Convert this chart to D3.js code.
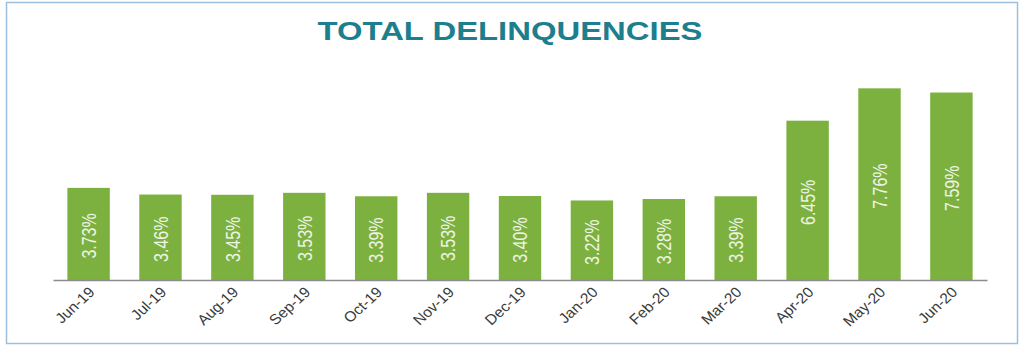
<!DOCTYPE html>
<html>
<head>
<meta charset="utf-8">
<script src="https://cdn.jsdelivr.net/npm/d3@7"></script>
<style>
  body { margin: 0; background: #fff; }
  svg { display: block; font-family: "Liberation Sans", Arial, sans-serif; }
</style>
</head>
<body>
<div id="chart"></div>
<script>
// dati del grafico
const months = ['Jun-19', 'Jul-19', 'Aug-19', 'Sep-19', 'Oct-19', 'Nov-19', 'Dec-19',
  'Jan-20', 'Feb-20', 'Mar-20', 'Apr-20', 'May-20', 'Jun-20'];
const rates = [3.73, 3.46, 3.45, 3.53, 3.39, 3.53, 3.40, 3.22, 3.28, 3.39, 6.45, 7.76, 7.59];
const valueLabels = ['3.73%', '3.46%', '3.45%', '3.53%', '3.39%', '3.53%', '3.40%',
  '3.22%', '3.28%', '3.39%', '6.45%', '7.76%', '7.59%'];

const width = 1024, height = 355;
const stretch = 1.3; // il testo originale appare allargato orizzontalmente

const svg = d3.select('#chart').append('svg')
  .attr('width', width)
  .attr('height', height);

// cornice
svg.append('rect')
  .attr('x', 6.5).attr('y', 2.5)
  .attr('width', 1011).attr('height', 341)
  .attr('fill', 'none')
  .attr('stroke', '#9dbfdf')
  .attr('stroke-width', 1.5);

// titolo
svg.append('text')
  .attr('x', 510).attr('y', 40)
  .attr('text-anchor', 'middle')
  .attr('textLength', 385)
  .attr('lengthAdjust', 'spacingAndGlyphs')
  .style('font-size', '25px')
  .style('font-weight', 'bold')
  .style('fill', '#1d7f8e')
  .text('TOTAL DELINQUENCIES');

// scale
const x = d3.scaleBand()
  .domain(months)
  .range([53, 987])
  .paddingInner(0.41)
  .paddingOuter(0.2);

const y = d3.scaleLinear()
  .domain([0, 8])
  .range([280, 280 - 8 * 24.7]);

// barre
svg.selectAll('.bar')
  .data(rates)
  .enter().append('rect')
  .attr('class', 'bar')
  .attr('x', (d, i) => x(months[i]))
  .attr('y', d => y(d))
  .attr('width', x.bandwidth())
  .attr('height', d => y(0) - y(d))
  .attr('fill', '#7db13f');

// etichette dei valori dentro le barre
svg.selectAll('.val')
  .data(rates)
  .enter().append('text')
  .attr('class', 'val')
  .attr('transform', (d, i) => {
    const cx = x(months[i]) + x.bandwidth() / 2;
    const cy = (y(d) + y(0)) / 2 + 2;
    return `translate(${cx},${cy}) scale(${stretch},1) rotate(-90)`;
  })
  .attr('text-anchor', 'middle')
  .attr('dy', '0.35em')
  .style('font-size', '16px')
  .style('fill', '#eef4e6')
  .text((d, i) => valueLabels[i]);

// asse x
const xAxis = d3.axisBottom(x).tickSize(0).tickSizeOuter(0);
const gx = svg.append('g')
  .attr('transform', `translate(0,${y(0)})`)
  .call(xAxis);

gx.select('.domain')
  .attr('stroke', '#8c8c8c')
  .attr('stroke-width', 1.5);

gx.selectAll('.tick text')
  .attr('x', 0).attr('y', 0).attr('dy', null)
  .attr('text-anchor', 'end')
  .attr('transform', 'translate(7,13) scale(1.08,1) rotate(-45)')
  .style('font-size', '14.5px')
  .style('font-family', '"Liberation Sans", Arial, sans-serif')
  .style('fill', '#3a3a3a');
</script>
</body>
</html>
